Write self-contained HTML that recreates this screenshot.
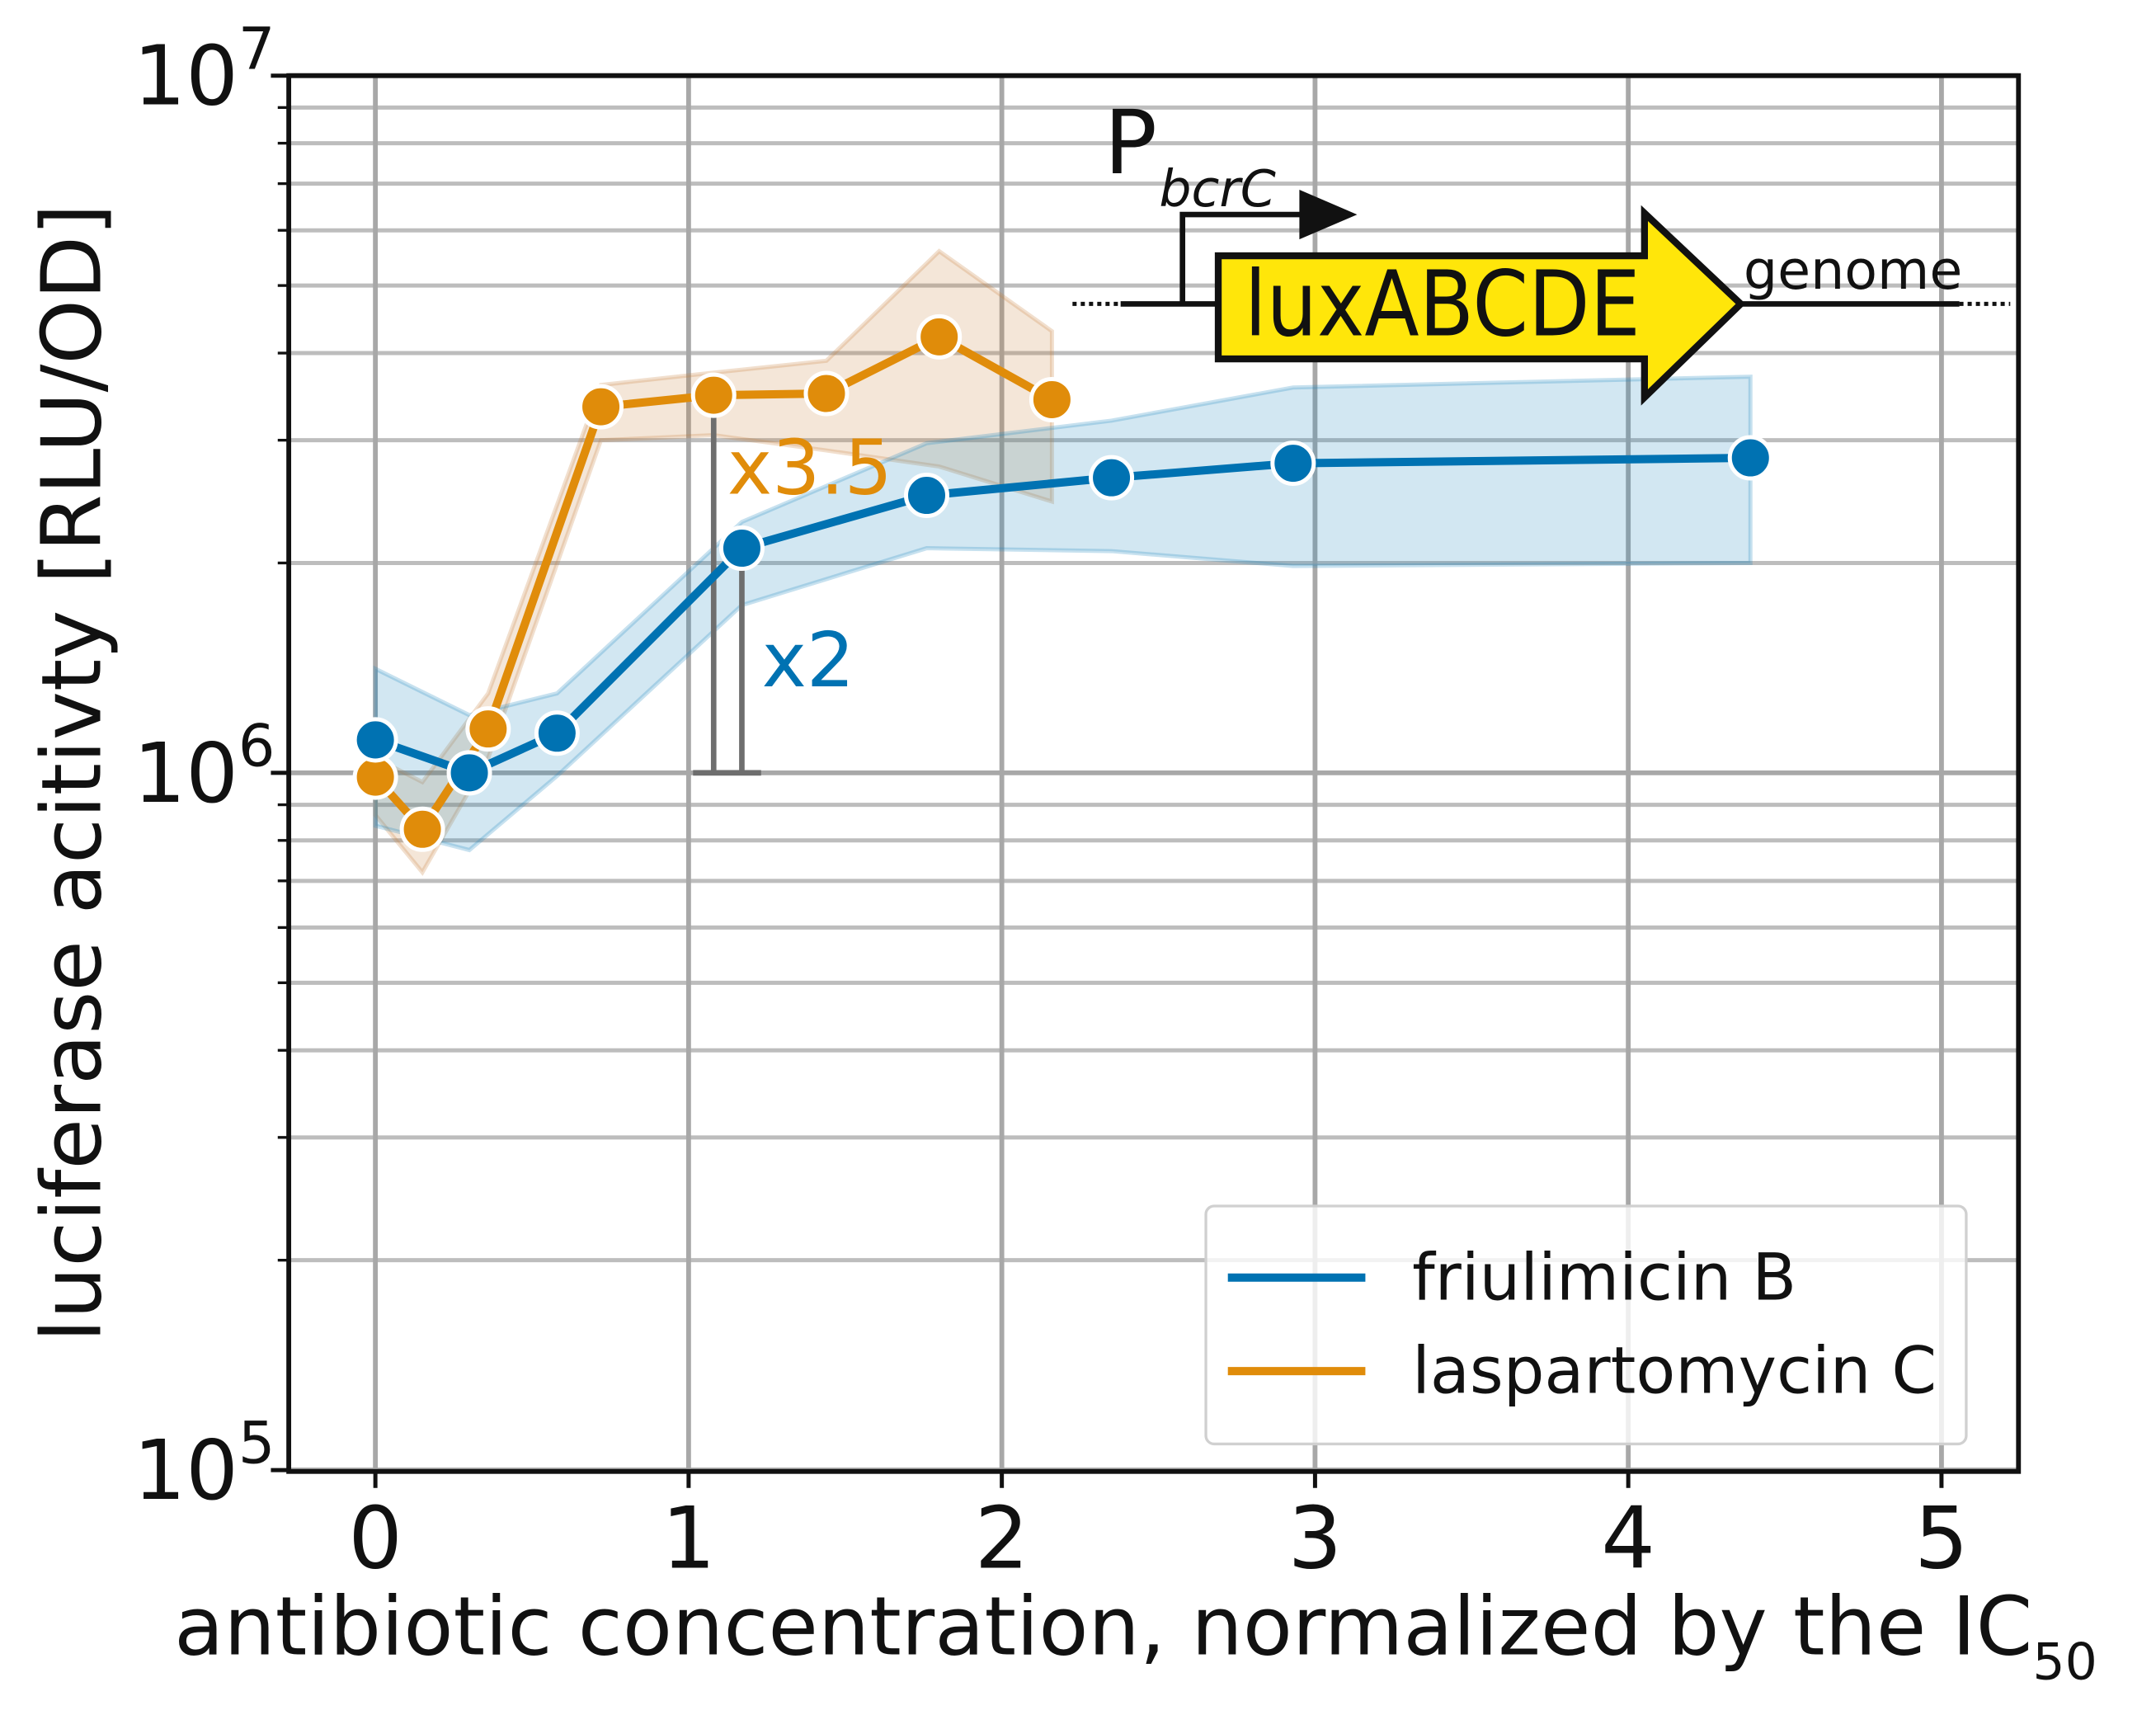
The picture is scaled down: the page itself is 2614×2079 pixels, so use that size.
<!DOCTYPE html>
<html><head><meta charset="utf-8"><style>
html,body{margin:0;padding:0;background:#fff;}
svg{display:block;font-family:"DejaVu Sans","Liberation Sans",sans-serif;}
</style></head><body>
<svg id="chart" width="2614" height="2079" viewBox="0 0 1568 1247.1" xmlns="http://www.w3.org/2000/svg">
<g id="grid"></g>
<g id="bands"></g>
<g id="diagram">
  <text x="803" y="126" font-size="64" fill="#111">P</text>
  <text x="843" y="150" font-size="37" font-style="italic" fill="#111">bcrC</text>
  <line x1="780" y1="221" x2="815" y2="221" stroke="#111" stroke-width="3" stroke-dasharray="3,3"/>
  <line x1="815" y1="221" x2="886" y2="221" stroke="#111" stroke-width="4"/>
  <polyline points="860,221 860,156 955,156" fill="none" stroke="#111" stroke-width="4"/>
  <polygon points="945,138 987,156 945,174" fill="#111"/>
  <polygon points="886,186 1196,186 1196,155 1266,221 1196,289 1196,261 886,261" fill="#ffe60a" stroke="#111" stroke-width="5" stroke-linejoin="miter"/>
  <text x="905" y="244" font-size="66" fill="#111" textLength="288" lengthAdjust="spacingAndGlyphs">luxABCDE</text>
  <line x1="1266" y1="221" x2="1425" y2="221" stroke="#111" stroke-width="4"/>
  <line x1="1425" y1="221" x2="1462" y2="221" stroke="#111" stroke-width="3" stroke-dasharray="3,3"/>
  <text x="1268" y="210" font-size="39" fill="#111">genome</text>
</g>
<g id="calipers"></g>
<g id="series"></g>
<g id="axes"></g>
<g id="legend">
  <rect x="877" y="877" width="553" height="173" rx="6" fill="#fff" fill-opacity="0.8" stroke="#d0d0d0" stroke-width="2"/>
  <line x1="893" y1="929" x2="993" y2="929" stroke="#0072b2" stroke-width="6"/>
  <text x="1027" y="945" font-size="47" fill="#111">friulimicin B</text>
  <line x1="893" y1="997" x2="993" y2="997" stroke="#e08c0a" stroke-width="6"/>
  <text x="1027" y="1013" font-size="47" fill="#111">laspartomycin C</text>
</g>
<text x="826" y="1203" font-size="59" text-anchor="middle" fill="#111">antibiotic concentration, normalized by the IC<tspan font-size="37" dy="18">50</tspan></text>
<text transform="translate(73,562) rotate(-90)" font-size="60" text-anchor="middle" fill="#111">luciferase acitivty [RLU/OD]</text>
</svg>
<script>
const blueX=[0,0.30,0.58,1.17,1.76,2.35,2.93,4.39];
const blueY=[1.115e6,1.0e6,1.14e6,2.1e6,2.5e6,2.65e6,2.78e6,2.83e6];
const blueHi=[1.41e6,1.21e6,1.3e6,2.29e6,2.97e6,3.2e6,3.57e6,3.7e6];
const blueLo=[0.84e6,0.775e6,0.99e6,1.74e6,2.1e6,2.08e6,1.98e6,2.0e6];
const orX=[0,0.15,0.36,0.72,1.08,1.44,1.80,2.16];
const orY=[0.986e6,0.83e6,1.156e6,3.35e6,3.48e6,3.5e6,4.22e6,3.43e6];
const orHi=[1.05e6,0.97e6,1.3e6,3.6e6,3.75e6,3.9e6,5.6e6,4.3e6];
const orLo=[0.87e6,0.72e6,1.05e6,3.0e6,3.05e6,2.9e6,2.75e6,2.45e6];
const xTicks=[0,1,2,3,4,5];
const yMajor=[5,6,7];
const NS='http://www.w3.org/2000/svg';
const L=210,R=1468,T=55,B=1070;
function sx(v){return 273+v*227.8;}
function sy(v){return 562-(Math.log10(v)-6)*507;}
function mk(tag,attrs,parent){const e=document.createElementNS(NS,tag);for(const k in attrs)e.setAttribute(k,attrs[k]);parent.appendChild(e);return e;}
const grid=document.getElementById('grid');
mk('rect',{x:L,y:T,width:R-L,height:B-T,fill:'#fff'},grid);
for(let d=5;d<7;d++)for(let m=2;m<=9;m++){
  const y=sy(m*Math.pow(10,d));
  const g=mk('line',{x1:L,x2:R,y1:y,y2:y,stroke:'#bdbdbd','stroke-width':3},grid);
  
  
}
yMajor.forEach(p=>{const y=sy(Math.pow(10,p));
  const g=mk('line',{x1:L,x2:R,y1:y,y2:y,stroke:'#a8a8a8','stroke-width':3.5},grid);
  
  
});
xTicks.forEach(v=>{const x=sx(v);
  const g=mk('line',{x1:x,x2:x,y1:T,y2:B,stroke:'#a8a8a8','stroke-width':3.5},grid);
  
  
});
const bands=document.getElementById('bands');
function band(xs,hi,lo,fill,stroke,name){
  let pts=xs.map((x,i)=>sx(x)+','+sy(hi[i]));
  for(let i=xs.length-1;i>=0;i--)pts.push(sx(xs[i])+','+sy(lo[i]));
  const p=mk('polygon',{points:pts.join(' '),fill:fill,'fill-opacity':0.2,stroke:stroke,'stroke-opacity':0.25,'stroke-width':3},bands);
  
  
}
band(orX,orHi,orLo,'#c8803c','#c8803c','laspartomycin-band');
band(blueX,blueHi,blueLo,'#1f88c0','#1f88c0','friulimicin-band');
const cal=document.getElementById('calipers');
function caliper(xv,top,name){
  const x=sx(xv);
  const l=mk('line',{x1:x,x2:x,y1:sy(top),y2:sy(1e6),stroke:'#6e6e6e','stroke-width':4},cal);
  
  
  const c=mk('line',{x1:x-13,x2:x+13,y1:sy(top),y2:sy(top),stroke:'#6e6e6e','stroke-width':4},cal);
  
  
}
caliper(orX[4],orY[4],'caliper-laspartomycin');
caliper(blueX[3],blueY[3],'caliper-friulimicin');
const base=mk('line',{x1:sx(orX[4])-15,x2:sx(blueX[3])+14,y1:sy(1e6),y2:sy(1e6),stroke:'#6e6e6e','stroke-width':4},cal);


const t1=mk('text',{x:529,y:359,'font-size':55,fill:'#e08c0a'},cal);t1.textContent='x3.5';


const t2=mk('text',{x:554,y:499,'font-size':55,fill:'#0072b2'},cal);t2.textContent='x2';


const series=document.getElementById('series');
function line(xs,ys,col,name){
  const pl=mk('polyline',{points:xs.map((x,i)=>sx(x)+','+sy(ys[i])).join(' '),fill:'none',stroke:col,'stroke-width':6,'stroke-linejoin':'round'},series);
  
  
  xs.forEach((x,i)=>{
    const c=mk('circle',{cx:sx(x),cy:sy(ys[i]),r:15,fill:col,stroke:'#fff','stroke-width':3},series);
    
    
  });
}
line(orX,orY,'#e08c0a','laspartomycin');
line(blueX,blueY,'#0072b2','friulimicin');
const axes=document.getElementById('axes');
const fr=mk('rect',{x:L,y:T,width:R-L,height:B-T,fill:'none',stroke:'#111','stroke-width':3.5},axes);


xTicks.forEach(v=>{const x=sx(v);
  mk('line',{x1:x,x2:x,y1:B,y2:B+12,stroke:'#111','stroke-width':3},axes);
  const t=mk('text',{x:x,y:1140,'font-size':62,'text-anchor':'middle',fill:'#111'},axes);t.textContent=v;
  
  
});
for(let d=5;d<7;d++)for(let m=2;m<=9;m++){const y=sy(m*Math.pow(10,d));mk('line',{x1:L-8,x2:L,y1:y,y2:y,stroke:'#111','stroke-width':2},axes);}
yMajor.forEach(p=>{const y=sy(Math.pow(10,p));
  mk('line',{x1:L-13,x2:L,y1:y,y2:y,stroke:'#111','stroke-width':3},axes);
  const t=mk('text',{x:200,y:y+21,'font-size':60,'text-anchor':'end',fill:'#111'},axes);
  t.textContent='10';
  const s=mk('tspan',{'font-size':42,dy:-26},t);s.textContent=p;
  
  
});
</script>
</body></html>
